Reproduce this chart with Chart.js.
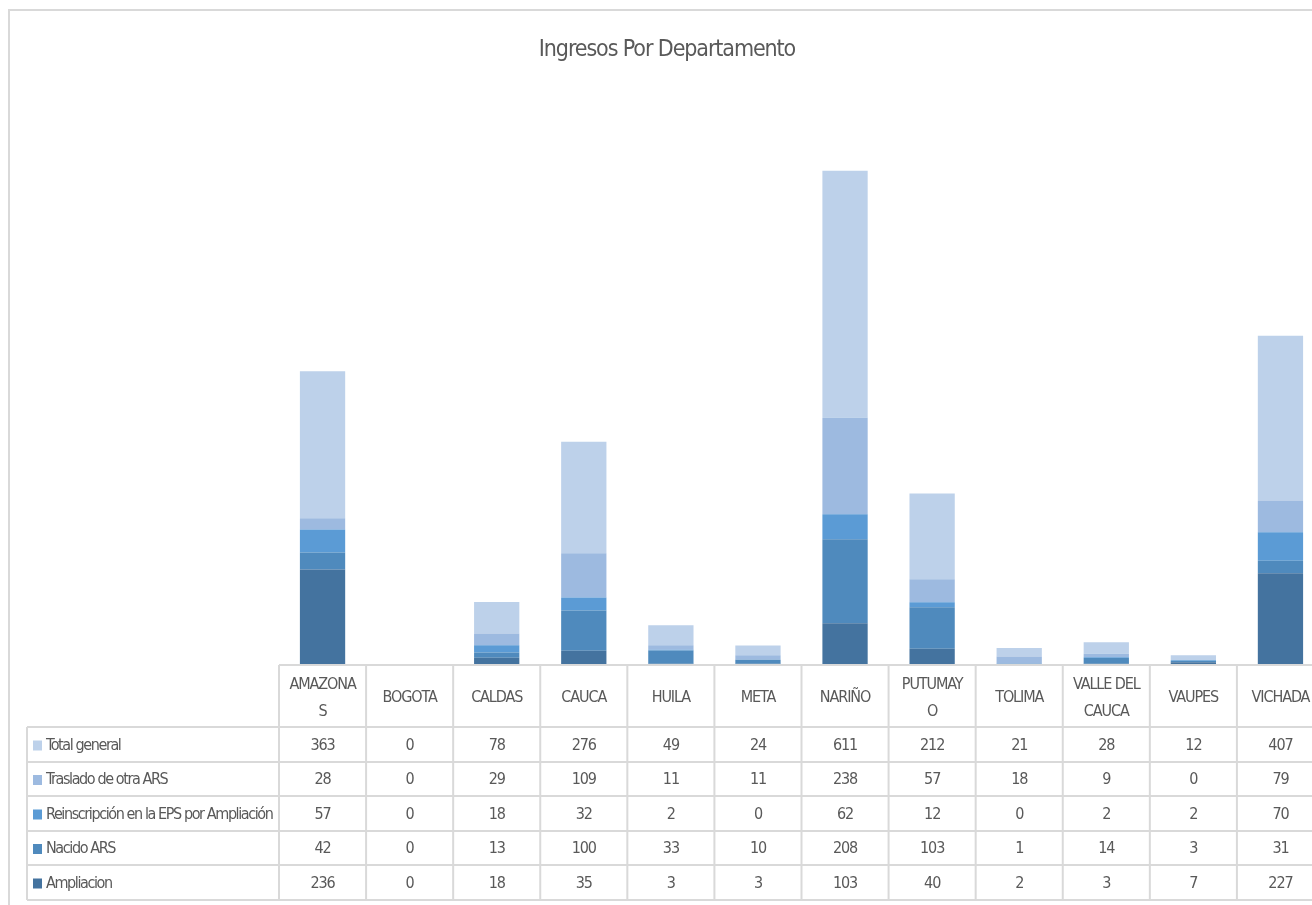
<!DOCTYPE html>
<html>
<head>
<meta charset="utf-8">
<script src="https://cdn.jsdelivr.net/npm/chart.js@4"></script>
<style>
  html, body { margin: 0; padding: 0; background: #fff; overflow: hidden; }
  .frame { position: absolute; left: 8px; top: 9px; width: 1400px; height: 1000px;
           border-left: 2px solid #d9d9d9; border-top: 2px solid #d9d9d9; }
  #myChart { position: absolute; left: 0; top: 0; }
</style>
</head>
<body>
<div class="frame"></div>
<canvas id="myChart" width="1324" height="905"></canvas>
<script>
const departamentos = [["AMAZONA", "S"], "BOGOTA", "CALDAS", "CAUCA", "HUILA", "META", "NARIÑO",
  ["PUTUMAY", "O"], "TOLIMA", ["VALLE DEL", "CAUCA"], "VAUPES", "VICHADA"];

const ampliacion = [236, 0, 18, 35, 3, 3, 103, 40, 2, 3, 7, 227];
const nacidoARS = [42, 0, 13, 100, 33, 10, 208, 103, 1, 14, 3, 31];
const reinscripcion = [57, 0, 18, 32, 2, 0, 62, 12, 0, 2, 2, 70];
const traslado = [28, 0, 29, 109, 11, 11, 238, 57, 18, 9, 0, 79];
const totalGeneral = [363, 0, 78, 276, 49, 24, 611, 212, 21, 28, 12, 407];

const FONT = "'DejaVu Sans Condensed', 'Liberation Sans Narrow', sans-serif";
const GRAY = "#595959";
const LINE = "#d9d9d9";
const SPACING = "-1.1px";

const series = [
  { label: "Ampliacion", data: ampliacion, color: "#44739f" },
  { label: "Nacido ARS", data: nacidoARS, color: "#4f8abd" },
  { label: "Reinscripción en la EPS por Ampliación", data: reinscripcion, color: "#5b9bd5" },
  { label: "Traslado de otra ARS", data: traslado, color: "#9dbae0" },
  { label: "Total general", data: totalGeneral, color: "#bdd1ea" },
];

// letras mas juntas, como la fuente estrecha del original
const tightText = {
  id: "tightText",
  beforeLayout(chart) { chart.ctx.letterSpacing = SPACING; },
  beforeDraw(chart) { chart.ctx.letterSpacing = SPACING; },
};

// tabla de datos bajo el grafico (filas en orden inverso al apilado)
const dataTable = {
  id: "dataTable",
  afterDraw(chart) {
    const ctx = chart.ctx;
    const x = chart.scales.x;
    const area = chart.chartArea;
    const cellW = (area.right - area.left) / departamentos.length;
    const headTop = area.bottom;
    const rowTops = [727, 762, 796, 831, 865, 900];
    const tableLeft = 27;

    ctx.save();
    ctx.strokeStyle = LINE;
    ctx.lineWidth = 2;
    ctx.beginPath();
    ctx.moveTo(area.left, headTop);
    ctx.lineTo(area.right + 10, headTop);
    rowTops.forEach((y) => {
      ctx.moveTo(tableLeft, y);
      ctx.lineTo(area.right + 10, y);
    });
    ctx.moveTo(tableLeft, rowTops[0]);
    ctx.lineTo(tableLeft, rowTops[rowTops.length - 1]);
    for (let i = 0; i <= departamentos.length; i++) {
      const vx = area.left + i * cellW;
      ctx.moveTo(vx, headTop);
      ctx.lineTo(vx, rowTops[rowTops.length - 1]);
    }
    ctx.stroke();

    ctx.font = "16px " + FONT;
    ctx.textBaseline = "middle";
    const rows = series.slice().reverse();
    rows.forEach((s, r) => {
      const cy = (rowTops[r] + rowTops[r + 1]) / 2 + 1;
      ctx.fillStyle = s.color;
      ctx.fillRect(33, cy - 5, 9, 10);
      ctx.fillStyle = GRAY;
      ctx.textAlign = "left";
      ctx.letterSpacing = "-1.4px";
      ctx.fillText(s.label, 46, cy);
      ctx.letterSpacing = SPACING;
      ctx.textAlign = "center";
      s.data.forEach((v, i) => {
        ctx.fillText(String(v), x.getPixelForValue(i), cy);
      });
    });
    ctx.restore();
  },
};

const config = {
  type: "bar",
  data: {
    labels: departamentos,
    datasets: series.map((s) => ({
      label: s.label,
      data: s.data,
      backgroundColor: s.color,
      borderWidth: 0,
      barPercentage: 0.52,
      categoryPercentage: 1,
    })),
  },
  options: {
    responsive: false,
    animation: false,
    layout: { padding: { left: 10, right: 0, top: 36, bottom: 0 } },
    plugins: {
      legend: { display: false },
      tooltip: { enabled: false },
      title: {
        display: true,
        text: "Ingresos Por Departamento",
        color: GRAY,
        font: { family: FONT, size: 23, weight: "normal", lineHeight: 1.25 },
        padding: { top: 0, bottom: 34 },
      },
    },
    scales: {
      x: {
        stacked: true,
        grid: {
          display: true,
          drawOnChartArea: false,
          drawTicks: true,
          tickLength: 20,
          color: "rgba(0,0,0,0)",
        },
        border: { display: false },
        ticks: {
          color: GRAY,
          font: { family: FONT, size: 16, lineHeight: 1.65 },
          padding: 0,
          crossAlign: "center",
          maxRotation: 0,
          autoSkip: false,
        },
        afterFit(scale) { scale.height = 240; },
      },
      y: {
        stacked: true,
        min: 0,
        max: 1400,
        grid: { display: false },
        border: { display: false },
        ticks: { display: false },
        afterFit(scale) { scale.width = 269; },
      },
    },
  },
  plugins: [tightText, dataTable],
};

const myChart = new Chart(document.getElementById("myChart"), config);
</script>
</body>
</html>
